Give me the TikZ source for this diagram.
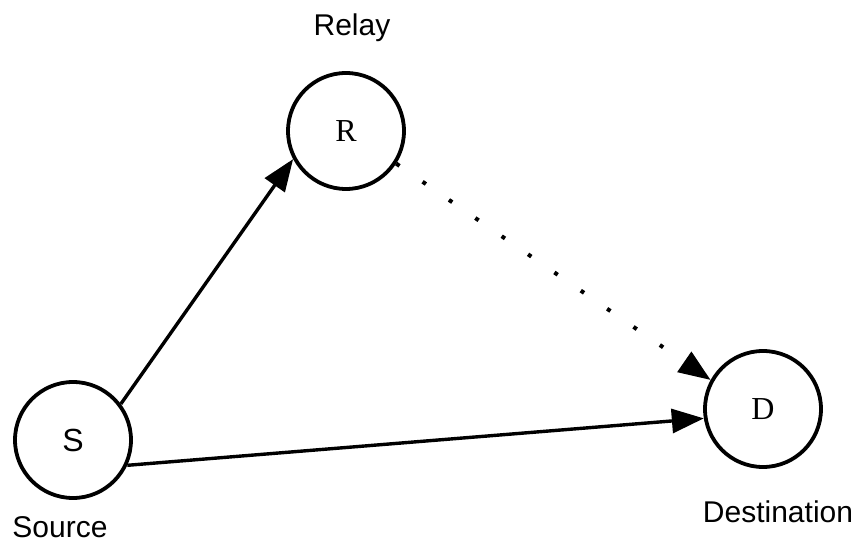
\documentclass[tikz,border=0pt]{standalone}
\usepackage{fontspec}
\setmainfont{Liberation Serif}
\setsansfont{Liberation Sans}
\usepackage{tikz}
\usetikzlibrary{positioning, arrows.meta}

\begin{document}
\begin{tikzpicture}[
  x=0.5pt, y=0.5pt,
  station/.style={circle, draw, line width=1.9pt, minimum size=58pt, inner sep=0pt, font=\fontsize{16}{19}\selectfont},
  tag/.style={font=\sffamily\fontsize{15}{18}\selectfont},
  link/.style={line width=1.7pt, -{Triangle[length=16pt, width=12pt]}},
  weak/.style={link, line width=2pt, dash pattern=on 2pt off 14pt}
]
  \useasboundingbox (0,0) rectangle (867,541);

  \node[station] (r) at (346,410) {R};
  \node[station] (s) at (73,101) {\sffamily S};
  \node[station] (d) at (763,132) {D};

  \node[tag] (rl) at (352,513) {Relay};
  \node[tag] (sl) at (60,14) {Source};
  \node[tag] (dl) at (778,29) {Destination};

  % Direct and relayed paths.
  \draw[link] (s.37) -- (r.208);
  \draw[link] (s.-25) -- (d.189);
  \draw[weak] (r.-33) -- (d.151);
\end{tikzpicture}
\end{document}
